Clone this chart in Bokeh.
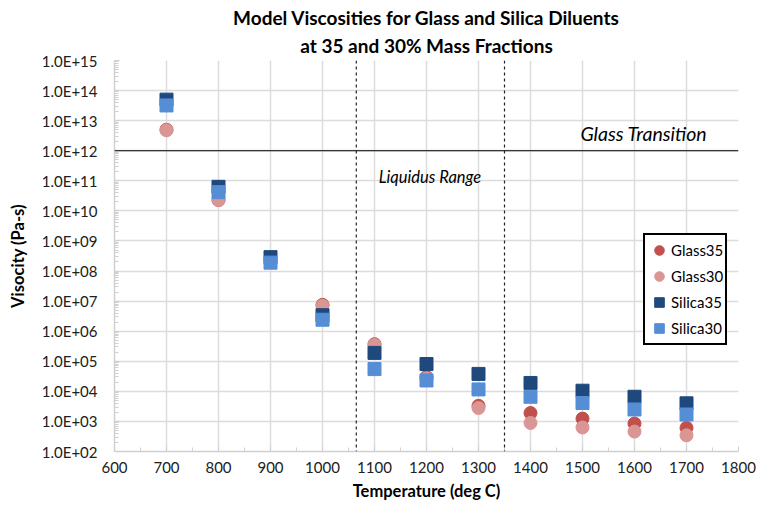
import math
from bokeh.plotting import figure
from bokeh.models import (Span, Label, Title, Legend, LegendItem, FixedTicker,
                          SingleIntervalTicker, CustomJSTickFormatter, Range1d)
from bokeh.embed import file_html
from bokeh.resources import INLINE

nan = float("nan")
temperature = [700, 800, 900, 1000, 1100, 1200, 1300, 1400, 1500, 1600, 1700]
glass35 = [5.0e12, 2.3e10, nan, 7.5e6, 3.7e5, 3.0e4, 3.3e3, 1.9e3, 1.24e3, 8.5e2, 6.1e2]
glass30 = [4.8e12, 2.3e10, nan, 7.0e6, 3.5e5, 2.7e4, 2.8e3, 8.9e2, 6.3e2, 4.6e2, 3.45e2]
silica35 = [5.0e13, 6.3e10, 2.9e8, 3.4e6, 1.9e5, 8.1e4, 3.8e4, 1.9e4, 1.05e4, 6.6e3, 4.0e3]
silica30 = [3.2e13, 4.2e10, 1.9e8, 2.4e6, 5.5e4, 2.3e4, 1.16e4, 6.6e3, 4.1e3, 2.5e3, 1.7e3]

glass_transition = 1e12
liquidus_low, liquidus_high = 1065, 1350

FONT = "Lato"

p = figure(width=758, height=505, output_backend="svg", toolbar_location=None,
           y_axis_type="log", x_range=Range1d(600, 1800), y_range=Range1d(1e2, 1e15),
           min_border_left=114, min_border_right=20, min_border_top=60, min_border_bottom=54,
           title="Model Viscosities for Glass and Silica Diluents")
p.outline_line_color = None
p.background_fill_color = "white"
p.border_fill_color = "white"

p.title.align = "center"
p.title.text_font = FONT
p.title.text_font_size = "19px"
p.title.text_font_style = "bold"
p.title.text_color = "black"
p.title.standoff = 0
p.add_layout(Title(text="at 35 and 30% Mass Fractions", align="center", standoff=7,
                   text_font=FONT, text_font_size="19px", text_font_style="bold",
                   text_color="black"), "above")

# axes
p.xaxis.ticker = SingleIntervalTicker(interval=100, num_minor_ticks=2)
major_y = [10.0 ** k for k in range(2, 16)]
minor_y = [m * 10.0 ** k for k in range(2, 15) for m in range(2, 10)]
p.yaxis.ticker = FixedTicker(ticks=major_y, minor_ticks=minor_y)
p.yaxis.formatter = CustomJSTickFormatter(code="""
const e = Math.round(Math.log10(tick));
const m = tick / Math.pow(10, e);
const a = Math.abs(e);
return m.toFixed(1) + 'E' + (e < 0 ? '-' : '+') + (a < 10 ? '0' : '') + a;
""")
for ax in (p.xaxis[0], p.yaxis[0]):
    ax.axis_line_color = "#d0d0d0"
    ax.axis_line_width = 1.5
    ax.major_tick_line_color = "#d0d0d0"
    ax.minor_tick_line_color = "#d0d0d0"
    ax.major_tick_in = 5
    ax.major_tick_out = 0
    ax.minor_tick_in = 4
    ax.minor_tick_out = 0
    ax.major_label_text_font = FONT
    ax.major_label_text_font_size = "15px"
    ax.major_label_text_color = "#202020"
    ax.axis_label_text_font = FONT
    ax.axis_label_text_font_size = "16.5px"
    ax.axis_label_text_font_style = "bold"
    ax.axis_label_text_color = "black"
p.xaxis.major_label_standoff = 10
p.yaxis.major_label_standoff = 17
p.xaxis.axis_label = "Temperature (deg C)"
p.yaxis.axis_label = "Visocity (Pa-s)"
p.xaxis.axis_label_standoff = 5
p.yaxis.axis_label_standoff = 11

p.grid.grid_line_color = "#dcdcdc"
p.grid.grid_line_width = 1.5

# reference lines
p.add_layout(Span(location=glass_transition, dimension="width", line_color="black", line_width=1.2))
for loc in (liquidus_low, liquidus_high):
    p.add_layout(Span(location=loc, dimension="height", line_color="#222222",
                      line_width=1.2, line_dash="3 3"))

p.add_layout(Label(x=1496, y=10 ** 12.58, text="Glass Transition", text_font=FONT,
                   text_font_size="19.5px", text_font_style="italic", text_baseline="middle",
                   text_color="black"))
p.add_layout(Label(x=1108, y=10 ** 11.12, text="Liquidus Range", text_font=FONT,
                   text_font_size="16.5px", text_font_style="italic", text_baseline="middle",
                   text_color="black"))

r1 = p.scatter(temperature, glass35, marker="circle", size=13, fill_color="#C0504D",
               line_color="#C0504D")
r2 = p.scatter(temperature, glass30, marker="circle", size=13, fill_color="#D99694",
               line_color="#D99694")
r3 = p.scatter(temperature, silica35, marker="square", size=13, fill_color="#1F497D",
               line_color="#1F497D")
r4 = p.scatter(temperature, silica30, marker="square", size=13, fill_color="#558ED5",
               line_color="#558ED5")

legend = Legend(items=[LegendItem(label="Glass35", renderers=[r1]),
                       LegendItem(label="Glass30", renderers=[r2]),
                       LegendItem(label="Silica35", renderers=[r3]),
                       LegendItem(label="Silica30", renderers=[r4])],
                location=(529, 106), border_line_color="black", border_line_width=2,
                border_line_alpha=1.0,
                padding=2, spacing=0, label_height=26, glyph_height=26, glyph_width=24,
                label_standoff=0, margin=0, label_text_font=FONT, label_text_font_size="15px",
                label_text_color="black", background_fill_alpha=1.0)
p.add_layout(legend, "center")

open("out.html", "w").write(file_html(p, INLINE))
